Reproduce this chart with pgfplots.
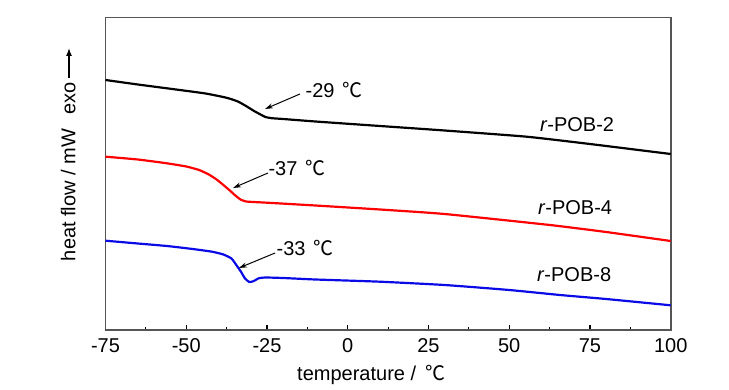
\documentclass[border=0pt]{standalone}
\usepackage{pgfplots}
\pgfplotsset{compat=1.18}
\usepackage{fontspec}
\setmainfont{Liberation Sans}
\newfontfamily\cjk{Noto Sans CJK SC}
\usetikzlibrary{arrows.meta}
\definecolor{axgray}{HTML}{555555}
\definecolor{myblue}{HTML}{0A0AE6}
\begin{document}
\begin{tikzpicture}[font=\fontsize{20bp}{24bp}\selectfont]
\useasboundingbox (-105.5bp,-60bp) rectangle (623.5bp,330bp);
\begin{axis}[
  scale only axis,
  width=565.2bp, height=312.3bp,
  xmin=-75, xmax=100, ymin=0, ymax=312.3,
  axis line style={axgray, line width=1.6pt},
  xtick={-75,-50,-25,0,25,50,75,100},
  xticklabels={-75,-50,-25,0,25,50,75,100},
  minor x tick num=1,
  xtick pos=lower,
  tick align=inside,
  major tick length=5bp, minor tick length=3bp,
  every tick/.style={black, line width=1.2pt},
  ytick=\empty,
  xticklabel style={yshift=-5bp},
  xlabel={temperature /\, {\cjk ℃}},
  xlabel style={at={(axis description cs:0.47,-0.144)}, anchor=center},
  ylabel={heat flow / mW\hspace{14bp}exo\hspace{4bp}\tikz[baseline=-0.6ex]\draw[line width=1.3pt,-{Latex[length=8bp,width=6bp]}] (0,0)--(30bp,0);},
  ylabel style={at={(axis description cs:-0.066,0.563)}, anchor=center, rotate=0},
  clip=false,
]
\addplot[black, line width=2.2pt, smooth, tension=0.3] coordinates {
(-75,250) (-65,245.5) (-56,241.7) (-48,238.3) (-44,236.5) (-40,234) (-37,231.8) (-34,228.5) (-31.5,224) (-29,219) (-27,215.5) (-25.5,213) (-23.5,211.8) (-20,211) (-10,208.5) (10,204) (30,199.5) (55.4,193.3) (75,186) (100,176)
};
\addplot[red, line width=2.2pt, smooth, tension=0.3] coordinates {
(-75,173.3) (-65,170.5) (-56,166.7) (-50,163.5) (-46,160) (-43,155.5) (-40.6,150.5) (-38.5,145) (-36.5,139.5) (-34.8,134.5) (-33.2,130.5) (-31.5,128.5) (-28,127.8) (-25,127.3) (-10,124.5) (10,120.5) (30,116) (62.6,105) (80,98) (100,89)
};
\addplot[myblue, line width=2.2pt, smooth, tension=0.3] coordinates {
(-75,89.3) (-65,86.5) (-56,84) (-48,81) (-42,78.3) (-38.5,75.5) (-36,71.5) (-34.5,65) (-33,58) (-31.8,51.5) (-30.5,48) (-29.2,48.8) (-27.5,51.8) (-25.5,52.5) (-20,52) (-10,50.5) (10,48.3) (30,45) (50,40) (65.7,35) (80,31) (100,24.7)
};
\draw[black, line width=1pt, -{Stealth[length=8bp,width=5bp]}] (axis cs:-14.8,236) -- (axis cs:-25.6,221);
\draw[black, line width=1pt, -{Stealth[length=8bp,width=5bp]}] (axis cs:-24.7,157) -- (axis cs:-35.5,142);
\draw[black, line width=1pt, -{Stealth[length=8bp,width=5bp]}] (axis cs:-22.5,77) -- (axis cs:-33.7,62);
\node at (axis cs:-4.2,240) {-29\hspace{8bp}{\cjk ℃}};
\node at (axis cs:-15.7,162) {-37\hspace{8bp}{\cjk ℃}};
\node at (axis cs:-13.2,82) {-33\hspace{8bp}{\cjk ℃}};
\node at (axis cs:71,205) {\textit{r}-POB-2};
\node at (axis cs:70.4,122) {\textit{r}-POB-4};
\node at (axis cs:70.1,55) {\textit{r}-POB-8};
\end{axis}
\end{tikzpicture}
\end{document}
